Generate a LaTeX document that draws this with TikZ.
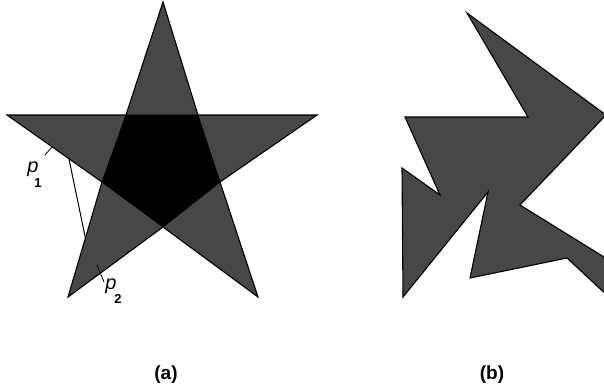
\documentclass[tikz,border=0pt]{standalone}
\usepackage{fontspec}
\setmainfont{Liberation Sans}
\begin{document}
\begin{tikzpicture}[x=1pt,y=-1pt,
  shadefill/.style={fill=black!72,draw=black,line width=1.1pt,line join=miter},
  kernelfill/.style={fill=black,draw=black,line width=0.8pt},
  leaderline/.style={draw=black,line width=0.8pt},
  segline/.style={draw=black,line width=1pt},
  captext/.style={font=\bfseries\fontsize{19}{22}\selectfont,inner sep=0pt},
  plab/.style={font=\itshape\fontsize{20}{22}\selectfont,inner sep=0pt},
  sublab/.style={font=\bfseries\fontsize{13}{15}\selectfont,inner sep=0pt}]
\useasboundingbox (0,0) rectangle (604,391);
\clip (0,0) rectangle (604,391);
% (a) star
\coordinate (T) at (163,2);
\coordinate (IUR) at (198,115);
\coordinate (R) at (317,115);
\coordinate (IR) at (220,182);
\coordinate (BR) at (258,297);
\coordinate (IB) at (163,227);
\coordinate (BL) at (68,297);
\coordinate (IL) at (102,182);
\coordinate (L) at (7,115);
\coordinate (IUL) at (126,115);
\path[shadefill] (T) -- (IUR) -- (R) -- (IR) -- (BR) -- (IB) -- (BL) -- (IL) -- (L) -- (IUL) -- cycle;
\path[kernelfill] (IUL) -- (IUR) -- (IR) -- (IB) -- (IL) -- cycle;
% segment p1 p2
\coordinate (p1) at (69,159);
\coordinate (p2) at (85.4,238);
\draw[segline] (p1) -- (p2);
% labels
\coordinate (l1a) at (52,147);
\coordinate (l1b) at (45,155);
\draw[leaderline] (l1a) -- (l1b);
\node[plab] (P1) at (33,169) {p};
\node[sublab] (S1) at (38,183) {1};
\coordinate (l2a) at (97,265);
\coordinate (l2b) at (104,282);
\draw[leaderline] (l2a) -- (l2b);
\node[plab] (P2) at (111,286) {p};
\node[sublab] (S2) at (118,299) {2};
% (b) polygon
\path[shadefill] (467,13) -- (606,115) -- (520,205) -- (625,270) -- (625,312) -- (567,258)
  -- (470,278) -- (488,192) -- (403,297) -- (402,168) -- (440,195) -- (405,117)
  -- (528,117) -- cycle;
% captions
\node[captext] (ca) at (166,375) {(a)};
\node[captext] (cb) at (492,375) {(b)};
\end{tikzpicture}
\end{document}
